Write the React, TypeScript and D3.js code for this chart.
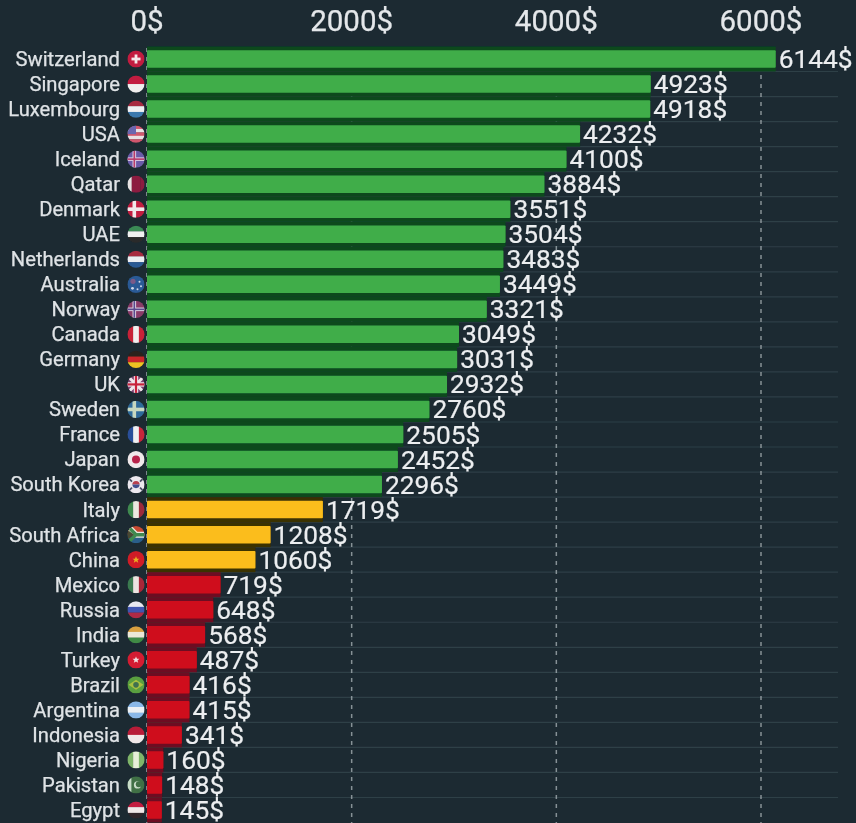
import React from "react";
import * as d3 from "d3";

const countries = ["Switzerland","Singapore","Luxembourg","USA","Iceland","Qatar","Denmark","UAE","Netherlands","Australia","Norway","Canada","Germany","UK","Sweden","France","Japan","South Korea","Italy","South Africa","China","Mexico","Russia","India","Turkey","Brazil","Argentina","Indonesia","Nigeria","Pakistan","Egypt"];
const salaries = [6144,4923,4918,4232,4100,3884,3551,3504,3483,3449,3321,3049,3031,2932,2760,2505,2452,2296,1719,1208,1060,719,648,568,487,416,415,341,160,148,145];
const ticks = [0,2000,4000,6000];
const tierLimits = [1000,2000];
const barColors = ["#cf111c","#fbbd1c","#40ad4a"];
const gapColors = ["#6d1020","#3b3006","#0c491f"];

const flagKinds = ["s","h","h","us","c","v","c","h","h","a","c","v","h","u","c","v","j","k","v","z","d","v","h","h","d","b","h","h","v","p","h"];
const flagColors = [
  ["#c21f3f","#f4e8ea"],["#c21f3f","#f0eeee"],["#a82a40","#f0f0f2","#3a78ad"],["#d0566c","#e8e0e4","#d0566c","#e8e0e4","#d0566c","#6a66b0"],["#6a5aa8","#d8c8e0","#b83a6a"],
  ["#e8e4e4","#8c1c40","#8c1c40","#8c1c40"],["#c21f3f","#f0e8ea"],["#3a8a55","#f0f0f0","#2a2a2a"],["#a82a40","#eceef2","#2b5a94"],["#2a5a96","#d0d8e8"],["#8a3a68","#d8d0e0","#5a4a8e"],
  ["#c82038","#f2eeee","#c82038"],["#2a201c","#c8282a","#eec320"],["#7a4070","#eee6ea","#c8203a"],["#2f6a9a","#c8d8c0"],["#2a4f9a","#f0f0f2","#c8283a"],["#f0e8ea","#b8204a"],["#ece8ee","#b8404f","#41508f"],
  ["#3f8a50","#ece8e0","#9c2a3a"],["#c84a30","#ece8e0","#3f8a50","#2a5f8a"],["#d01e28","#e8b020"],["#3a7a50","#ece4e0","#a82838"],["#e8e8f0","#3f55b0","#b02a45"],
  ["#d8a040","#ece8d8","#3f8a45"],["#d41e30","#f0e0e0"],["#5a9f3f","#a8c040","#3f6f4f"],["#8ab8e8","#ecf0f4","#8ab8e8"],["#b81f38","#f0e8e8"],["#7fb56a","#e8f0d8","#7fb56a"],["#3f6f45","#c8dcc8"],["#c21f3f","#f0e8e8","#30282a"],
];

const W = 856, H = 823;
const x = d3.scaleLinear().domain([0, 6000]).range([147, 761]);
const y = d3.scalePoint<string>().domain(countries).range([59, 810]);
const tier = d3.scaleThreshold<number, number>().domain(tierLimits).range([0, 1, 2]);
const step = y.step();
const barH = 17.5;
const flagX = 136, flagR = 8.6;

function Stripes({ colors, vertical }: { colors: string[]; vertical: boolean }) {
  const band = d3.scaleBand<number>().domain(d3.range(colors.length)).range([-flagR, flagR]);
  return <>{colors.map((c, i) => vertical
    ? <rect key={i} x={band(i)} y={-flagR} width={band.bandwidth() + 0.2} height={flagR * 2} fill={c} />
    : <rect key={i} x={-flagR} y={band(i)} width={flagR * 2} height={band.bandwidth() + 0.2} fill={c} />)}</>;
}

function Flag({ kind, colors }: { kind: string; colors: string[] }) {
  const R = flagR;
  const bg = <rect x={-R} y={-R} width={2 * R} height={2 * R} fill={colors[0]} />;
  if (kind === "h") return <Stripes colors={colors} vertical={false} />;
  if (kind === "v") return <Stripes colors={colors} vertical={true} />;
  if (kind === "s") return <>
    {bg}
    <rect x={-4.5} y={-1.4} width={9} height={2.8} fill={colors[1]} />
    <rect x={-1.4} y={-4.5} width={2.8} height={9} fill={colors[1]} />
  </>;
  if (kind === "us") return <>
    <Stripes colors={colors.slice(0, 5)} vertical={false} />
    <rect x={-R} y={-R} width={R} height={R} fill={colors[5]} />
  </>;
  if (kind === "c") {
    const inner = colors[2];
    return <>
      {bg}
      <rect x={-R} y={-1.8} width={2 * R} height={3.6} fill={colors[1]} />
      <rect x={-3.5} y={-R} width={3.6} height={2 * R} fill={colors[1]} />
      {inner && <rect x={-R} y={-0.8} width={2 * R} height={1.6} fill={inner} />}
      {inner && <rect x={-2.5} y={-R} width={1.6} height={2 * R} fill={inner} />}
    </>;
  }
  if (kind === "u") return <>
    {bg}
    <path d={`M${-R} ${-R}L${R} ${R}M${R} ${-R}L${-R} ${R}`} stroke={colors[1]} strokeWidth={3} />
    <rect x={-R} y={-2.2} width={2 * R} height={4.4} fill={colors[1]} />
    <rect x={-2.2} y={-R} width={4.4} height={2 * R} fill={colors[1]} />
    <rect x={-R} y={-1.1} width={2 * R} height={2.2} fill={colors[2]} />
    <rect x={-1.1} y={-R} width={2.2} height={2 * R} fill={colors[2]} />
  </>;
  if (kind === "j") return <>
    {bg}
    <circle r={4} fill={colors[1]} />
  </>;
  if (kind === "k") return <>
    {bg}
    <path d="M-3.6 0A3.6 3.6 0 0 1 3.6 0Z" fill={colors[1]} />
    <path d="M-3.6 0A3.6 3.6 0 0 0 3.6 0Z" fill={colors[2]} />
    <path d="M-7 -6L-4 -3M7 -6L4 -3M-7 6L-4 3M7 6L4 3" stroke="#4a4f65" strokeWidth={1.8} />
  </>;
  if (kind === "d") return <>
    {bg}
    <path d="M0 -3.4L1 -1L3.4 -1L1.5 0.6L2.2 3L0 1.6L-2.2 3L-1.5 0.6L-3.4 -1L-1 -1Z" fill={colors[1]} />
  </>;
  if (kind === "a") return <>
    {bg}
    <circle cx={-3} cy={-3} r={2.6} fill="#7a5a88" />
    <circle cx={3.5} cy={-2.5} r={1} fill={colors[1]} />
    <circle cx={5} cy={2} r={1} fill={colors[1]} />
    <circle cx={1.5} cy={5} r={1} fill={colors[1]} />
    <circle cx={-3.5} cy={4} r={1.4} fill={colors[1]} />
  </>;
  if (kind === "z") return <>
    <rect x={-R} y={-R} width={2 * R} height={R} fill={colors[0]} />
    <rect x={-R} y={0} width={2 * R} height={R} fill={colors[3]} />
    <path d={`M${-R} ${-R}L0 0L${R} 0`} stroke={colors[1]} strokeWidth={6} fill="none" />
    <path d={`M${-R} ${-R}L0 0L${R} 0M${-R} ${R}L0 0`} stroke={colors[2]} strokeWidth={3.5} fill="none" />
    <path d={`M${-R} -5L-2 0L${-R} 5Z`} fill="#4a4a30" />
  </>;
  if (kind === "b") return <>
    {bg}
    <path d="M-7.5 0L0 -5L7.5 0L0 5Z" fill={colors[1]} />
    <circle r={2.8} fill={colors[2]} />
  </>;
  if (kind === "p") return <>
    {bg}
    <rect x={-R} y={-R} width={4} height={2 * R} fill={colors[1]} />
    <circle cx={1.5} cy={0} r={3.6} fill={colors[1]} />
    <circle cx={2.8} cy={-0.8} r={3} fill={colors[0]} />
  </>;
  return null;
}

export default function App() {
  const grid = "#aab4b8";
  return (
    <svg width={W} height={H} viewBox={`0 0 ${W} ${H}`}
      style={{ position: "fixed", left: 0, top: 0, background: "#1c2a32", display: "block" }}
      fontFamily="Roboto, sans-serif">
      <defs>
        <filter id="soft" x="-2%" y="-2%" width="104%" height="104%">
          <feGaussianBlur stdDeviation="0.55" />
        </filter>
        <filter id="softer" x="-20%" y="-20%" width="140%" height="140%">
          <feGaussianBlur stdDeviation="0.6" />
        </filter>
        <clipPath id="disc"><circle r={flagR} /></clipPath>
      </defs>
      <rect width={W} height={H} fill="#1c2a32" />
      <g filter="url(#soft)">
        {countries.slice(0, -1).map((c) => (
          <line key={c} x1={147} x2={838} y1={y(c)! + step / 2} y2={y(c)! + step / 2} stroke="#2f3f47" strokeWidth={1.2} />
        ))}
        {ticks.map((t) => (
          <g key={t}>
            <line x1={x(t)} x2={x(t)} y1={48} y2={H} stroke={grid} strokeWidth={1.5} strokeDasharray="4 5" opacity={t === 0 ? 0.9 : 0.75} />
            <text x={x(t)} y={31} textAnchor="middle" fontSize={29.5} fill="#e4e7ea" stroke="#e4e7ea" strokeWidth={0.25}>{t}$</text>
          </g>
        ))}
        {countries.map((c, i) => {
          const k = tier(salaries[i]);
          return <rect key={c} x={x(0)} y={y(c)! - step / 2} width={x(salaries[i]) - x(0)} height={step} fill={gapColors[k]} />;
        })}
        {countries.map((c, i) => {
          const k = tier(salaries[i]);
          return <rect key={c} x={x(0)} y={y(c)! - barH / 2} width={x(salaries[i]) - x(0)} height={barH} fill={barColors[k]} rx={1} />;
        })}
        {countries.map((c, i) => (
          <g key={c}>
            <text x={120} y={y(c)! + 6.9} textAnchor="end" fontSize={20.2} fill="#dfe3e6" stroke="#dfe3e6" strokeWidth={0.25}>{c}</text>
            <g filter="url(#softer)">
              <g transform={`translate(${flagX},${y(c)})`} clipPath="url(#disc)">
                <Flag kind={flagKinds[i]} colors={flagColors[i]} />
              </g>
            </g>
            <text x={x(salaries[i]) + 3} y={y(c)! + 9} fontSize={26.3} fill="#eceef0" stroke="#eceef0" strokeWidth={0.2}>{salaries[i]}$</text>
          </g>
        ))}
      </g>
    </svg>
  );
}
